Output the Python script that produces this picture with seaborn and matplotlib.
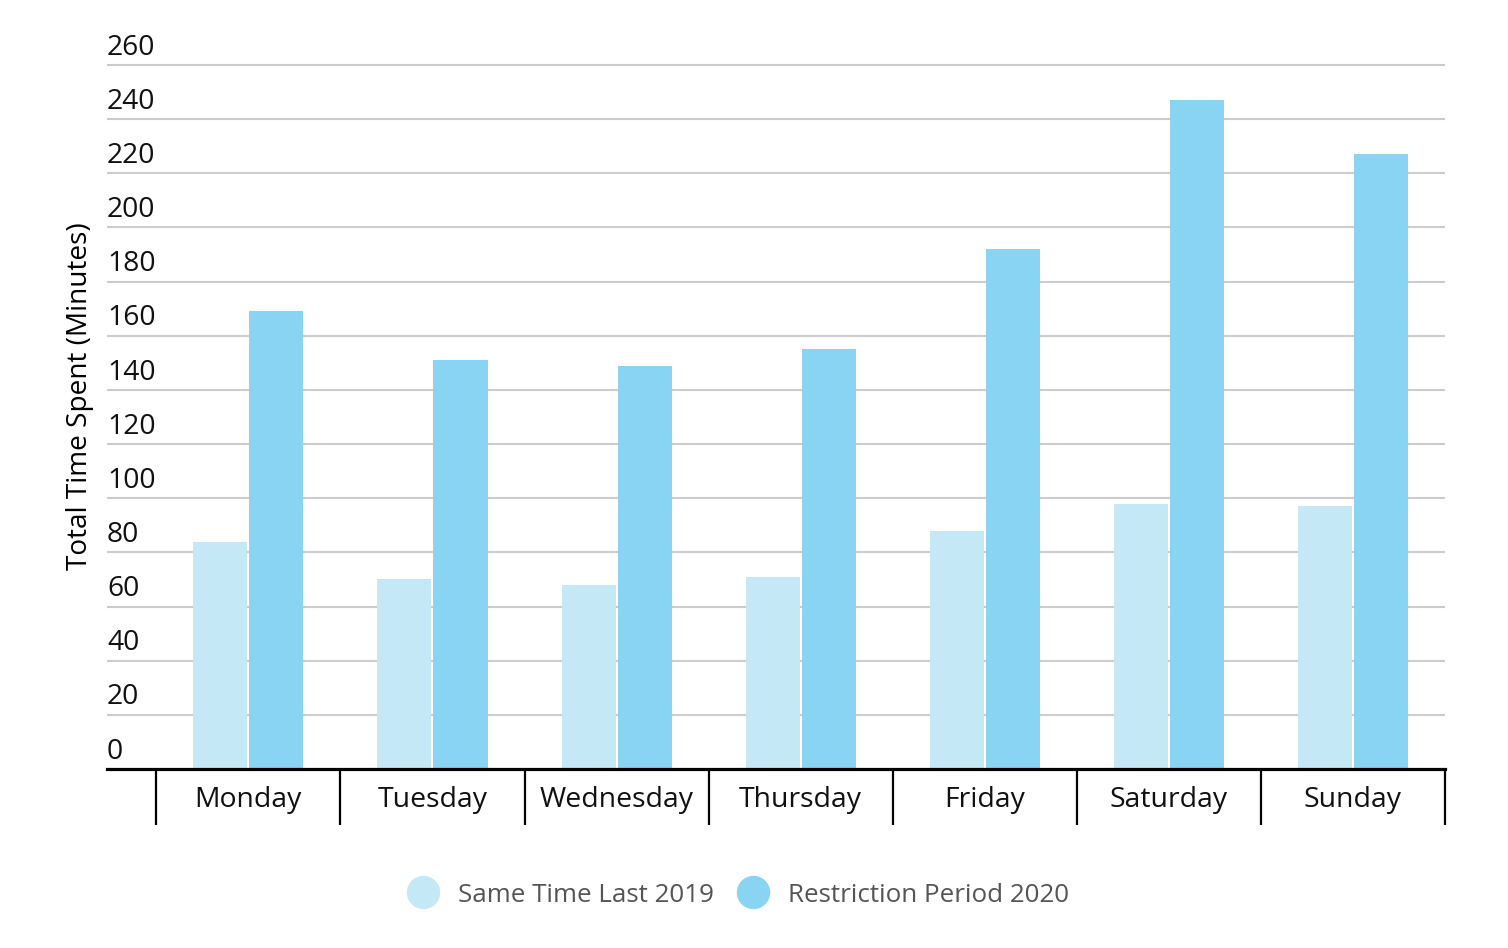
import pandas as pd
import seaborn as sns
import matplotlib
matplotlib.use('Agg')
import matplotlib.pyplot as plt
from matplotlib.lines import Line2D

days = ['Monday', 'Tuesday', 'Wednesday', 'Thursday', 'Friday', 'Saturday', 'Sunday']
series_names = ['Same Time Last 2019', 'Restriction Period 2020']
minutes_2019 = [84, 70, 68, 71, 88, 98, 97]
minutes_2020 = [169, 151, 149, 155, 192, 247, 227]
y_ticks = list(range(0, 261, 20))
colors = ['#C4E8F6', '#88D4F2']

df = pd.DataFrame({
    'day': days * 2,
    'series': [series_names[0]] * len(days) + [series_names[1]] * len(days),
    'minutes': minutes_2019 + minutes_2020,
})

sns.set_theme(style='white')
plt.rcParams['font.family'] = ['Open Sans', 'DejaVu Sans']

fig = plt.figure(figsize=(15.08, 9.48), dpi=100)
ax = fig.add_axes([107 / 1508, 179 / 948, 1338 / 1508, 706.7 / 948])

sns.barplot(data=df, x='day', y='minutes', hue='series', order=days,
            hue_order=series_names, palette=colors, width=0.609, gap=0.036,
            saturation=1, linewidth=0, legend=False, ax=ax)

ax.set_xlim(-0.768, 6.5)
ax.set_ylim(0, 261)

# grid + y labels sitting above the lines
ax.set_yticks(y_ticks)
ax.yaxis.grid(True, color='#cccccc', linewidth=1.5)
ax.set_axisbelow(True)
ax.tick_params(axis='y', length=0, labelleft=False)
for v in y_ticks:
    ax.annotate(str(v), xy=(0, v), xycoords=ax.get_yaxis_transform(),
                xytext=(0, 7.5), textcoords='offset points',
                ha='left', va='baseline', fontsize=20.3, color='#111111')

# category separators as minor ticks
ax.set_xticks([i - 0.5 for i in range(len(days) + 1)], minor=True)
ax.tick_params(axis='x', which='minor', length=40.5, width=1.6, color='black', bottom=True)
ax.tick_params(axis='x', which='major', length=0, pad=12.5, labelsize=20.4, labelcolor='#111111')

for s in ['top', 'right', 'left']:
    ax.spines[s].set_visible(False)
ax.spines['bottom'].set_color('black')
ax.spines['bottom'].set_linewidth(2.3)

ax.set_xlabel('')
ax.set_ylabel('Total Time Spent (Minutes)', fontsize=20.2, color='#000000')
ax.yaxis.set_label_coords(-0.0097, 0.528)

handles = [Line2D([0], [0], marker='o', linestyle='', markersize=23,
                  markerfacecolor=c, markeredgecolor=c) for c in colors]
leg = fig.legend(handles, series_names, loc='center', ncol=2,
                 bbox_to_anchor=(733 / 1508, 1 - 895 / 948), frameon=False,
                 fontsize=18.7, handletextpad=0.35, columnspacing=0.5)
for t in leg.get_texts():
    t.set_color('#555555')

fig.savefig('out.png', dpi=100)
